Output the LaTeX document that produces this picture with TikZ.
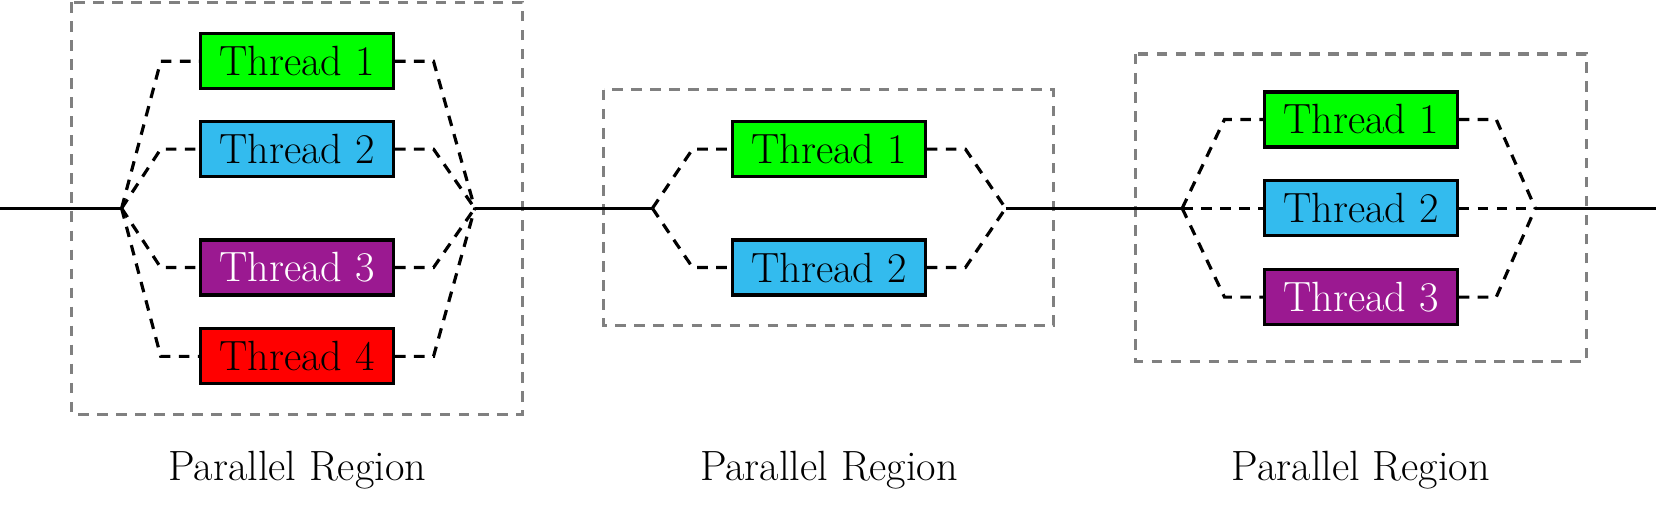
\documentclass[tikz,border=0pt]{standalone}
\begin{document}
\begin{tikzpicture}[x=0.5pt,y=-0.5pt,
  th/.style={draw=black,line width=1.5pt,minimum width=91pt,minimum height=26pt,inner sep=0pt,font=\fontsize{20}{24}\selectfont},
  g/.style={th,fill={rgb,255:red,0;green,255;blue,0}},
  c/.style={th,fill={rgb,255:red,51;green,187;blue,238}},
  p/.style={th,fill={rgb,255:red,155;green,25;blue,145},text=white},
  r/.style={th,fill={rgb,255:red,255;green,0;blue,0}},
  box/.style={draw=gray,dashed,line width=1.5pt,dash pattern=on 5pt off 4pt},
  dl/.style={dashed,line width=1.5pt,dash pattern=on 5pt off 4pt},
  sl/.style={line width=1.5pt},
  lab/.style={font=\fontsize{20}{24}\selectfont}]
\useasboundingbox (0,0) rectangle (1568,480);
% Region 1
\draw[box] (68,2) rectangle (494,392);
\node[g] (a1) at (281,58) {Thread 1};
\node[c] (a2) at (281,141) {Thread 2};
\node[p] (a3) at (281,253) {Thread 3};
\node[r] (a4) at (281,337) {Thread 4};
\coordinate (s0) at (0,197);
\coordinate (f1) at (115,197);
\coordinate (j1) at (449,197);
\draw[sl] (s0) -- (f1);
\foreach \n/\y in {a1/58,a2/141,a3/253,a4/337}{
  \draw[dl] (f1) -- (152,\y) -- (\n.west);
  \draw[dl] (\n.east) -- (410,\y) -- (j1);
}
\node[lab] (l1) at (281,445) {Parallel Region};
% Region 2
\draw[box] (571,85) rectangle (996,308);
\node[g] (b1) at (784,141) {Thread 1};
\node[c] (b2) at (784,253) {Thread 2};
\coordinate (f2) at (617,197);
\coordinate (j2) at (951,197);
\draw[sl] (j1) -- (f2);
\foreach \n/\y in {b1/141,b2/253}{
  \draw[dl] (f2) -- (655,\y) -- (\n.west);
  \draw[dl] (\n.east) -- (913,\y) -- (j2);
}
\node[lab] (l2) at (784,445) {Parallel Region};
% Region 3
\draw[box] (1074,51) rectangle (1500,342);
\node[g] (c1) at (1287,113) {Thread 1};
\node[c] (c2) at (1287,197) {Thread 2};
\node[p] (c3) at (1287,281) {Thread 3};
\coordinate (f3) at (1118,197);
\coordinate (j3) at (1452,197);
\coordinate (e3) at (1566,197);
\draw[sl] (j2) -- (f3);
\draw[sl] (j3) -- (e3);
\foreach \n/\y in {c1/113,c2/197,c3/281}{
  \draw[dl] (f3) -- (1158,\y) -- (\n.west);
  \draw[dl] (\n.east) -- (1415,\y) -- (j3);
}
\node[lab] (l3) at (1287,445) {Parallel Region};
\end{tikzpicture}
\end{document}
